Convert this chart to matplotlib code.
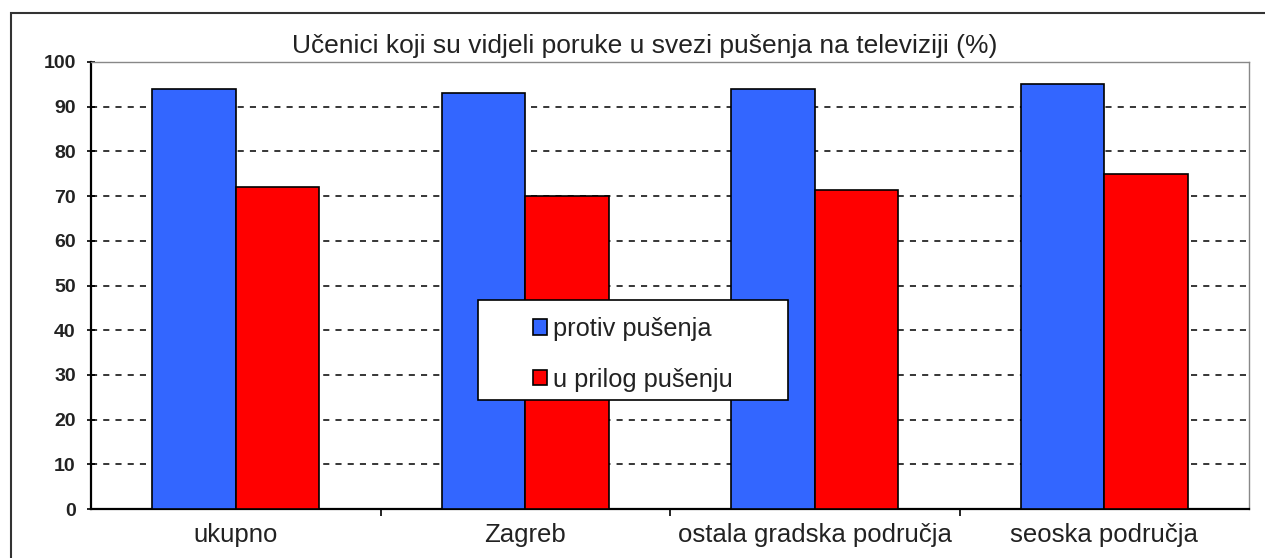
import matplotlib
matplotlib.use("Agg")
import matplotlib.pyplot as plt
import numpy as np
from matplotlib.patches import Rectangle

categories = ["ukupno", "Zagreb", "ostala gradska područja", "seoska područja"]
protiv = [94, 93, 94, 95]
u_prilog = [72, 70, 71.3, 75]
series_labels = ["protiv pušenja", "u prilog pušenju"]
title = "Učenici koji su vidjeli poruke u svezi pušenja na televiziji (%)"
yticks = list(range(0, 101, 10))

plt.rcParams['font.family'] = ['Liberation Sans', 'DejaVu Sans']

W, H = 1265, 558
fig = plt.figure(figsize=(W/100, H/100), dpi=100)
ax = fig.add_axes([91/W, 1-509/H, (1249-91)/W, (509-62)/H])

x = np.arange(len(categories))
bw = 0.288
ax.bar(x - bw/2, protiv, bw, color='#3366ff', edgecolor='black', linewidth=1.2,
       label=series_labels[0], zorder=3)
ax.bar(x + bw/2, u_prilog, bw, color='#ff0000', edgecolor='black', linewidth=1.2,
       label=series_labels[1], zorder=3)

ax.set_xlim(-0.5, len(categories)-0.5)
ax.set_ylim(0, 100)
ax.set_yticks(yticks)
ax.set_yticklabels([str(v) for v in yticks], fontsize=14, fontweight='bold', color='#222222')
for v in yticks[1:-1]:
    ax.axhline(v, color='black', linestyle=(0, (4, 4)), linewidth=1.1, zorder=1)

ax.set_xticks(np.arange(0.5, len(categories)-0.5, 1), minor=False)
ax.set_xticks(x, minor=True)
ax.set_xticklabels([])
ax.set_xticklabels(categories, minor=True, fontsize=18.5, color='#222222')
ax.tick_params(axis='x', which='minor', length=0, pad=10)
ax.tick_params(axis='x', which='major', length=5, width=1.2, direction='out')
ax.tick_params(axis='y', length=6, width=1.2, direction='inout', pad=8)

for s in ['left', 'bottom']:
    ax.spines[s].set_color('black')
    ax.spines[s].set_linewidth(1.6)
for s in ['top', 'right']:
    ax.spines[s].set_color('#888888')
    ax.spines[s].set_linewidth(1.0)

fig.text(645/W, 1-46/H, title, ha='center', va='center', fontsize=19, color='#222222')

# legend box
fig.add_artist(Rectangle((478/W, 1-400/H), (788-478)/W, 100/H, transform=fig.transFigure,
                         facecolor='white', edgecolor='black', linewidth=1.2, zorder=4))
leg = fig.legend(*ax.get_legend_handles_labels(), loc='upper left',
                 bbox_to_anchor=(533/W, 1-317/H),
                 fontsize=18.3, frameon=False, handlelength=0.55, handleheight=0.55,
                 handletextpad=0.25, borderpad=0, labelspacing=1.05, borderaxespad=0)
leg.set_zorder(5)
for t in leg.get_texts():
    t.set_color('#222222')

fig.add_artist(Rectangle((11/W, -0.05), 1.2, 1-13/H+0.05, transform=fig.transFigure,
                         fill=False, edgecolor='#333333', linewidth=1.5))

fig.savefig('out.png', dpi=100)
